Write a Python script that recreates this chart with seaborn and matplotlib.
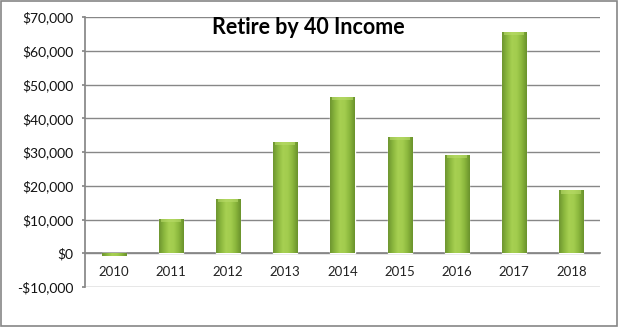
import numpy as np
import pandas as pd
import matplotlib
matplotlib.use("Agg")
import matplotlib.pyplot as plt
import seaborn as sns
from matplotlib.patches import Rectangle
from matplotlib.ticker import FuncFormatter, MultipleLocator, FixedLocator
from matplotlib.colors import LinearSegmentedColormap

years = ["2010", "2011", "2012", "2013", "2014", "2015", "2016", "2017", "2018"]
income = [-900, 10100, 16000, 33000, 46200, 34500, 29200, 65600, 18600]
title = "Retire by 40 Income"

sns.set_theme(style="white")
plt.rcParams["font.family"] = ["Lato", "DejaVu Sans"]

df = pd.DataFrame({"year": years, "income": income})

fig = plt.figure(figsize=(6.18, 3.27), dpi=100)
ax = fig.add_axes([85 / 618, 1 - 287 / 327, 515 / 618, 270 / 327])

sns.barplot(data=df, x="year", y="income", color="#9bc34a", width=0.42,
            ax=ax, saturation=1, zorder=3)

ax.set_ylim(-10000, 70000)
ax.set_xlim(-0.5, len(years) - 0.5)

# gradient shading on bars
cmap = LinearSegmentedColormap.from_list(
    "g", ["#6e9630", "#8cb83e", "#a7d052", "#a2cc4e", "#8ab63c", "#6a922c"])
grad = np.linspace(0, 1, 64).reshape(1, -1)
for p in ax.patches:
    x0, y0 = p.get_x(), p.get_y()
    w, h = p.get_width(), p.get_height()
    ylo, yhi = min(y0, y0 + h), max(y0, y0 + h)
    im = ax.imshow(grad, cmap=cmap, aspect="auto",
                   extent=(x0, x0 + w, ylo, yhi), zorder=3.5,
                   interpolation="bicubic")
    im.set_clip_path(p)
    if h > 0:
        cap = 900
        ax.add_patch(Rectangle((x0 + w * 0.08, yhi - cap), w * 0.84, cap,
                               color="#b9dc6a", alpha=0.6, zorder=3.6, lw=0))
ax.set_xlim(-0.5, len(years) - 0.5)
ax.set_ylim(-10000, 70000)

ax.yaxis.set_major_locator(MultipleLocator(10000))
ax.yaxis.set_major_formatter(FuncFormatter(
    lambda v, _: f"-${abs(v):,.0f}" if v < 0 else f"${v:,.0f}"))
ax.grid(axis="y", color="#878787", lw=1.0, zorder=0)
ax.grid(axis="x", visible=False)

for s in ["top", "right"]:
    ax.spines[s].set_visible(False)
ax.spines["left"].set_color("#878787")
ax.spines["bottom"].set_color("#878787")
ax.spines["bottom"].set_position(("data", 0))
ax.spines["bottom"].set_zorder(2)

ax.tick_params(axis="x", which="major", length=0, pad=9, labelsize=9.5,
               labelcolor="#222222")
ax.xaxis.set_minor_locator(FixedLocator(np.arange(0.5, len(years), 1.0).tolist()
                                        + [-0.5, len(years) - 0.5]))
ax.tick_params(axis="x", which="minor", length=4, direction="out",
               color="#878787", width=1)
ax.tick_params(axis="y", length=2.5, direction="out", color="#878787",
               labelsize=10, labelcolor="#111111", pad=6, left=True)
ax.set_xlabel("")
ax.set_ylabel("")

fig.text(308 / 618, 1 - 27 / 327, title, ha="center", va="center",
         fontsize=15.5, fontweight="bold", color="#000000")

fig.patches.append(Rectangle((0.0015, 0.003), 0.997, 0.994, transform=fig.transFigure,
                             fill=False, edgecolor="#868686", lw=1.2))

fig.savefig("out.png", dpi=100)
